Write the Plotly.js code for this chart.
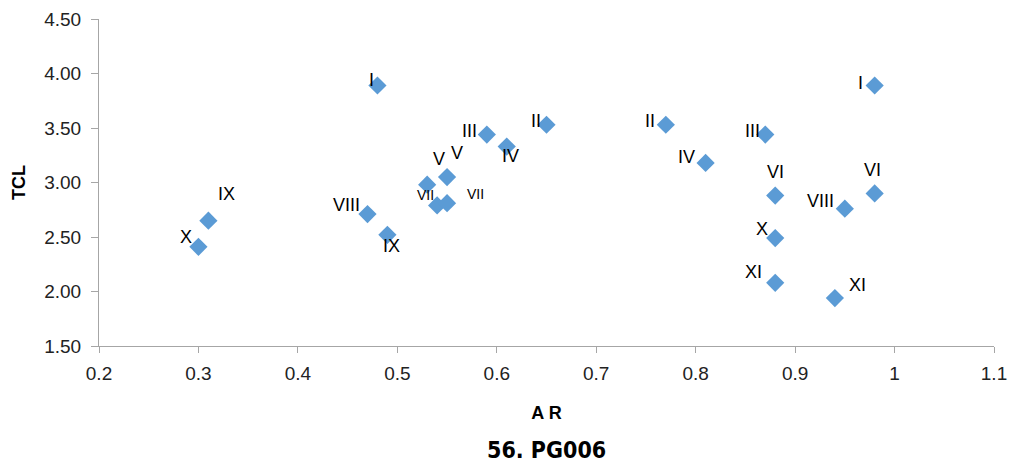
<!DOCTYPE html>
<html>
<head>
<meta charset="utf-8">
<script src="https://cdn.plot.ly/plotly-3.0.1.min.js"></script>
<style>html,body{margin:0;padding:0;background:#fff;}#chart{width:1013px;height:471px;}</style>
</head>
<body>
<div id="chart"></div>
<script>
// Data
const arValues  = [0.48, 0.30, 0.31, 0.47, 0.49, 0.53, 0.55, 0.54, 0.55, 0.59, 0.61, 0.65,
                   0.77, 0.81, 0.87, 0.88, 0.88, 0.88, 0.94, 0.95, 0.98, 0.98];
const tclValues = [3.89, 2.41, 2.65, 2.71, 2.52, 2.98, 3.05, 2.79, 2.81, 3.44, 3.33, 3.53,
                   3.53, 3.18, 3.44, 2.88, 2.49, 2.08, 1.94, 2.76, 3.89, 2.90];
const pointLabels = ["I", "X", "IX", "VIII", "IX", "V", "V", "VII", "VII", "III", "IV", "II",
                     "II", "IV", "III", "VI", "X", "XI", "XI", "VIII", "I", "VI"];
const xTickVals = [0.2, 0.3, 0.4, 0.5, 0.6, 0.7, 0.8, 0.9, 1.0, 1.1];
const xTickText = ["0.2", "0.3", "0.4", "0.5", "0.6", "0.7", "0.8", "0.9", "1", "1.1"];
const yTickVals = [1.5, 2.0, 2.5, 3.0, 3.5, 4.0, 4.5];
const yTickText = ["1.50", "2.00", "2.50", "3.00", "3.50", "4.00", "4.50"];

// Label placement (pixel offsets from each point) - styling only
const labelDx = [-6, -12, 18, -21, 4, 12, 10, -12, 28, -17, 4, -11,
                 -16, -19, -13, 0, -13, -22, 23, -24, -14, -2];
const labelDy = [-5, -10, -27, -9, 11, -26, -24, -10, -9, -4, 9, -4,
                 -4, -6, -4, -24, -9, -11, -13, -8, -2, -23];
const labelSize = [18, 18, 18, 18, 18, 18, 18, 14, 14, 18, 18, 18,
                   18, 18, 18, 18, 18, 18, 18, 18, 18, 18];

const FONT = "Liberation Sans, Arial, sans-serif";

const annotations = pointLabels.map((t, i) => ({
  x: arValues[i], y: tclValues[i], xref: "x", yref: "y",
  text: t, showarrow: false,
  xshift: labelDx[i], yshift: -labelDy[i],
  font: {family: FONT, size: labelSize[i], color: "#000"}
}));
annotations.push({
  xref: "paper", yref: "paper", x: 0.5, y: -0.318, yanchor: "middle",
  text: "<b>56. PG006</b>", showarrow: false,
  font: {family: "DejaVu Sans Condensed, Liberation Sans, sans-serif", size: 23, color: "#000"}
});

const trace = {
  x: arValues, y: tclValues, type: "scatter", mode: "markers",
  marker: {symbol: "diamond", size: 14, color: "#5B9BD5"},
  hoverinfo: "none"
};

const layout = {
  width: 1013, height: 471,
  margin: {l: 99, r: 19, t: 19, b: 125},
  paper_bgcolor: "#fff", plot_bgcolor: "#fff",
  showlegend: false,
  xaxis: {
    range: [0.2, 1.1], tickmode: "array", tickvals: xTickVals, ticktext: xTickText,
    showgrid: false, zeroline: false, showline: true, linecolor: "#a6a6a6", linewidth: 1,
    ticks: "outside", ticklen: 6, tickcolor: "#a6a6a6", ticklabelstandoff: 4,
    tickfont: {family: FONT, size: 19, color: "#222"},
    title: {text: "<b>A R</b>", font: {family: FONT, size: 18, color: "#000"}, standoff: 23}
  },
  yaxis: {
    range: [1.5, 4.5], tickmode: "array", tickvals: yTickVals, ticktext: yTickText,
    showgrid: false, zeroline: false, showline: true, linecolor: "#a6a6a6", linewidth: 1,
    ticks: "outside", ticklen: 7, tickcolor: "#a6a6a6", ticklabelstandoff: 6,
    tickfont: {family: FONT, size: 19, color: "#222"},
    title: {text: "<b>TCL</b>", font: {family: FONT, size: 18, color: "#000"}, standoff: 13}
  },
  annotations: annotations
};

Plotly.newPlot("chart", [trace], layout, {staticPlot: true, displayModeBar: false});
</script>
</body>
</html>
